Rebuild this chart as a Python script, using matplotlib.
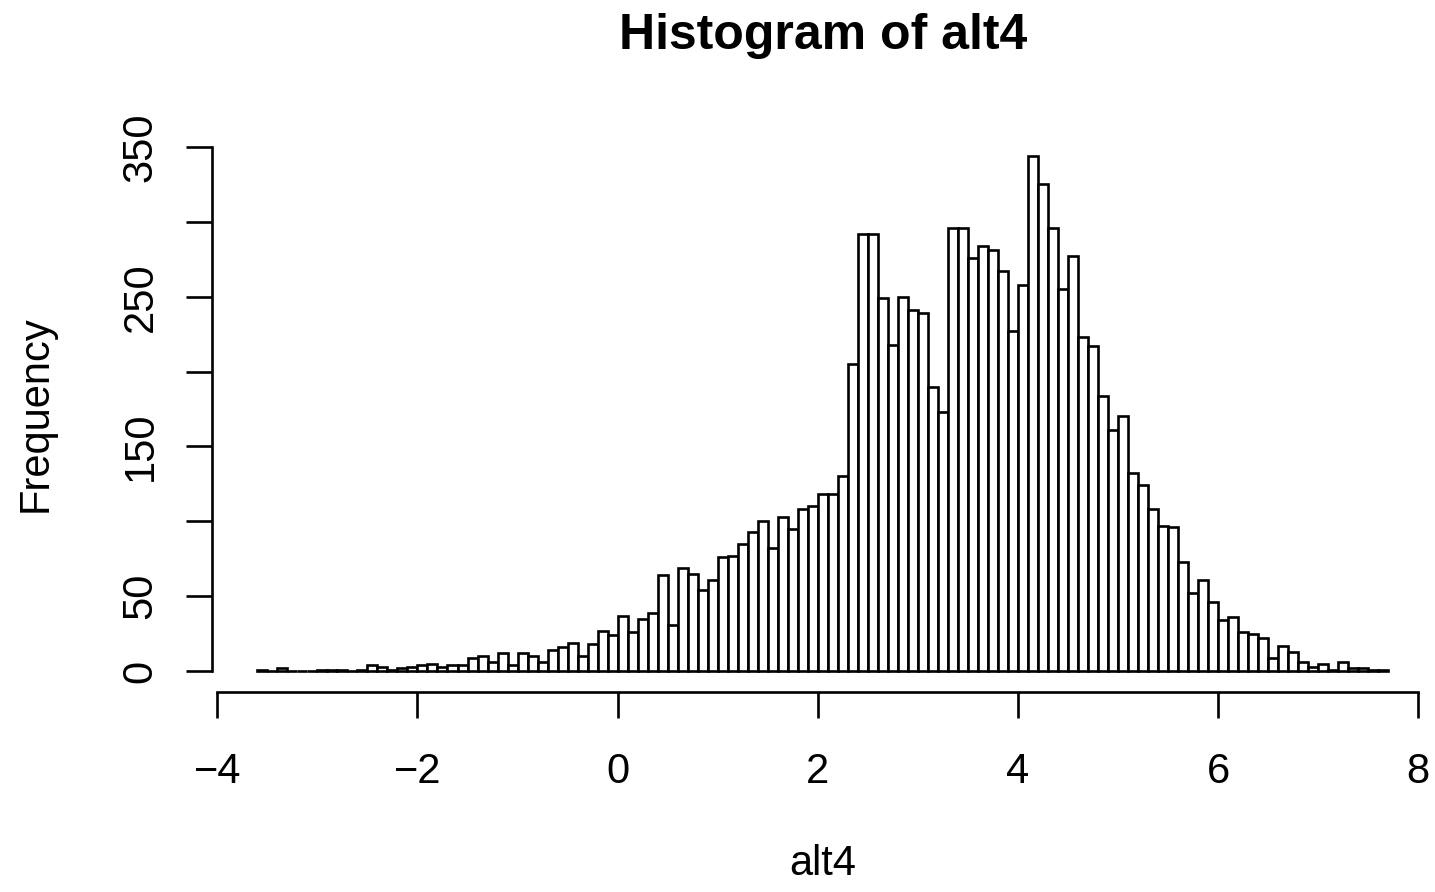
import numpy as np
import matplotlib
matplotlib.use("Agg")
import matplotlib.pyplot as plt

# ---- data ----
bin_start = -3.6
bin_width = 0.1
counts = [
    1, 0, 2, 0, 0, 0, 1, 1, 1, 0,          # -3.6 .. -2.7
    1, 4, 3, 1, 2, 3, 4, 5, 3, 4,          # -2.6 .. -1.7
    4, 9, 10, 6, 12, 4, 12, 10, 6, 14,     # -1.6 .. -0.7
    16, 19, 10, 18, 27, 24, 37, 26, 35, 39,  # -0.6 .. 0.3
    64, 31, 69, 65, 54, 61, 76, 77, 85, 93,  # 0.4 .. 1.3
    100, 82, 103, 95, 108, 110, 118, 118, 130, 205,  # 1.4 .. 2.3
    292, 292, 249, 218, 250, 241, 239, 190, 173, 296,  # 2.4 .. 3.3
    296, 276, 284, 281, 267, 227, 258, 344, 325, 296,  # 3.4 .. 4.3
    255, 277, 223, 217, 184, 161, 170, 132, 124, 108,  # 4.4 .. 5.3
    97, 96, 73, 52, 61, 46, 34, 36, 26, 25,  # 5.4 .. 6.3
    22, 9, 17, 13, 6, 3, 5, 1, 6, 2,        # 6.4 .. 7.3
    2, 1, 1,                                # 7.4 .. 7.6
]
x_ticks = [-4, -2, 0, 2, 4, 6, 8]
y_ticks = [0, 50, 100, 150, 200, 250, 300, 350]
y_tick_labels = ["0", "50", "", "150", "", "250", "", "350"]
title = "Histogram of alt4"
xlabel = "alt4"
ylabel = "Frequency"

edges = bin_start + bin_width * np.arange(len(counts) + 1)

plt.rcParams['font.family'] = ['Liberation Sans', 'DejaVu Sans']

W, H = 1435, 892
fig = plt.figure(figsize=(W / 100, H / 100), dpi=100)
left, right, top, bottom = 212.1, 1433.5, 135.4, 691.6
ax = fig.add_axes([left / W, 1 - bottom / H, (right - left) / W, (bottom - top) / H])

lw = 1.9
ax.bar(edges[:-1], counts, width=bin_width, align='edge',
       facecolor='white', edgecolor='black', linewidth=lw)

xr = edges[-1] - edges[0]
ax.set_xlim(edges[0] - 0.04 * xr, edges[-1] + 0.04 * xr)
ymax = max(counts)
ax.set_ylim(-0.04 * ymax, ymax * 1.04)

for s in ['top', 'right']:
    ax.spines[s].set_visible(False)
ax.spines['left'].set_bounds(y_ticks[0], y_ticks[-1])
ax.spines['bottom'].set_bounds(x_ticks[0], x_ticks[-1])
for s in ['left', 'bottom']:
    ax.spines[s].set_linewidth(lw)

ax.set_xticks(x_ticks)
ax.set_xticklabels([str(t).replace('-', '\u2212') for t in x_ticks], fontsize=30)
ax.set_yticks(y_ticks)
ax.set_yticklabels(y_tick_labels, fontsize=30, rotation=90, va='center')
ax.tick_params(axis='both', direction='out', length=18.7, width=lw)
ax.tick_params(axis='x', pad=25)
ax.tick_params(axis='y', pad=18.5)

cx = (left + right) / 2
fig.text(cx / W, 1 - 49 / H, title, ha='center', va='baseline',
         fontsize=36, fontweight='bold')
fig.text(cx / W, 1 - 875 / H, xlabel, ha='center', va='baseline', fontsize=30)
fig.text(35.5 / W, 1 - ((top + bottom) / 2) / H, ylabel, ha='center', va='center',
         rotation=90, fontsize=30)

fig.savefig("out.png", dpi=100, facecolor='white')
